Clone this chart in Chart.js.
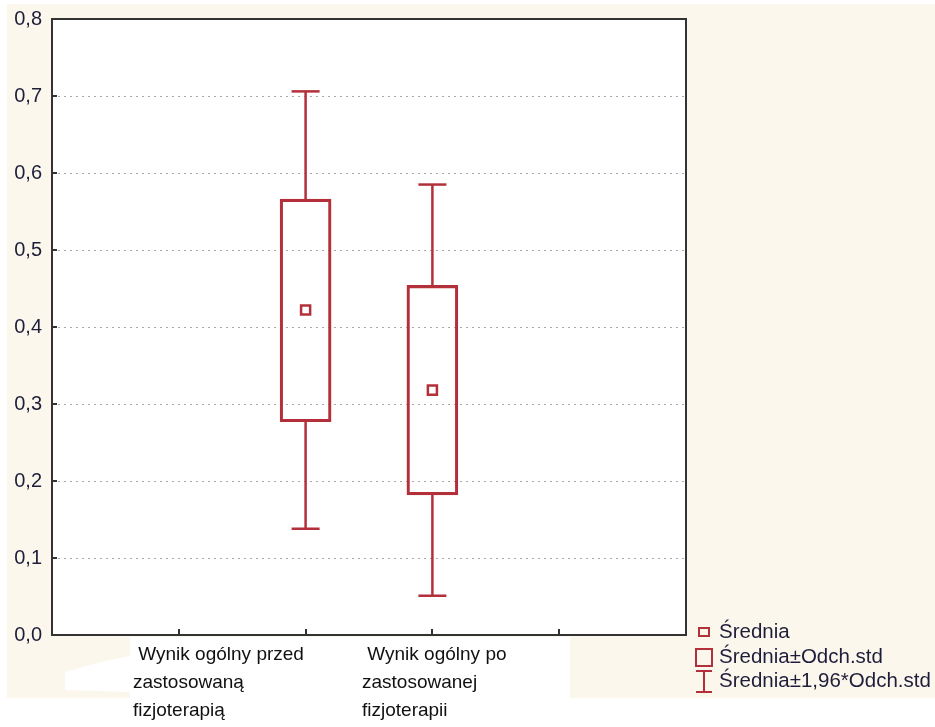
<!DOCTYPE html>
<html>
<head>
<meta charset="utf-8">
<script src="https://cdn.jsdelivr.net/npm/chart.js@4"></script>
<style>
  html, body { margin: 0; padding: 0; background: #fff; }
  #wrap { width: 935px; height: 727px; }
</style>
</head>
<body>
<div id="wrap"><canvas id="wykres" width="935" height="727"></canvas></div>
<script>
// dane
const kategorie = [
    [" Wynik ogólny przed", "zastosowaną", "fizjoterapią"],
    [" Wynik ogólny po", "zastosowanej", "fizjoterapii"]
];
const srednia = [0.422, 0.318];
const odchDol = [0.277, 0.182];
const odchGora = [0.566, 0.454];
const ci196Dol = [0.138, 0.051];
const ci196Gora = [0.706, 0.585];
const yTicks = [0, 0.1, 0.2, 0.3, 0.4, 0.5, 0.6, 0.7, 0.8];
const legenda = ["Średnia", "Średnia±Odch.std", "Średnia±1,96*Odch.std"];

const CZERWONY = "#b3303a";
const TEKST = "#1e1e3a";
const BEZ = "#fcf7ec";
const FONT = "'Liberation Sans', Arial, sans-serif";

// pozycje na osi x: kategorie w slotach 2 i 3 (oś 0..5)
const xKat = kategorie.map((k, i) => i + 2);
const labelLeft = [133, 362];

const wasy = [];
xKat.forEach((x, i) => {
    wasy.push({ x: x, y: ci196Gora[i] }, { x: x, y: odchGora[i] }, { x: x, y: null });
    wasy.push({ x: x, y: odchDol[i] }, { x: x, y: ci196Dol[i] }, { x: x, y: null });
});

const tlo = {
    id: "tlo",
    beforeDraw(chart) {
        const c = chart.ctx;
        const a = chart.chartArea;
        c.save();
        c.fillStyle = "#fff";
        c.fillRect(0, 0, chart.width, chart.height);
        c.fillStyle = BEZ;
        c.fillRect(7, 4, chart.width - 7, 694);
        c.fillStyle = "#fff";
        c.fillRect(130, a.bottom + 2, 440, 698 - a.bottom - 2);
        c.beginPath();
        c.moveTo(65, 672);
        c.lineTo(105, 661);
        c.lineTo(130, 656);
        c.lineTo(130, 692);
        c.lineTo(65, 690);
        c.closePath();
        c.fill();
        c.fillRect(a.left, a.top, a.right - a.left, a.bottom - a.top);
        c.restore();
    },
    afterDraw(chart) {
        const c = chart.ctx;
        const a = chart.chartArea;
        const xs = chart.scales.x;
        const ys = chart.scales.y;
        c.save();
        // ramka
        c.strokeStyle = "#333";
        c.lineWidth = 2;
        c.strokeRect(a.left, a.top, a.right - a.left, a.bottom - a.top);
        // znaczniki do wewnątrz
        c.lineWidth = 2;
        c.beginPath();
        yTicks.forEach(v => {
            const y = Math.round(ys.getPixelForValue(v));
            c.moveTo(a.left, y);
            c.lineTo(a.left + 5, y);
        });
        [1, 2, 3, 4].forEach(v => {
            const x = Math.round(xs.getPixelForValue(v));
            c.moveTo(x, a.bottom);
            c.lineTo(x, a.bottom - 6);
        });
        c.stroke();

        // etykiety kategorii
        c.fillStyle = "#111";
        c.font = "19px " + FONT;
        c.textBaseline = "alphabetic";
        c.textAlign = "left";
        kategorie.forEach((linie, i) => {
            linie.forEach((t, j) => {
                c.fillText(t, labelLeft[i], 660 + j * 28);
            });
        });

        // legenda
        const lx = 704;
        const ly = [632, 657, 681];
        c.strokeStyle = CZERWONY;
        c.lineWidth = 2;
        c.strokeRect(lx - 5, ly[0] - 4, 10, 8);
        c.strokeRect(lx - 8, ly[1] - 8, 16, 17);
        c.beginPath();
        c.moveTo(lx - 8, ly[2] - 10);
        c.lineTo(lx + 8, ly[2] - 10);
        c.moveTo(lx, ly[2] - 10);
        c.lineTo(lx, ly[2] + 11);
        c.moveTo(lx - 8, ly[2] + 11);
        c.lineTo(lx + 8, ly[2] + 11);
        c.stroke();
        c.fillStyle = TEKST;
        c.font = "20.5px " + FONT;
        c.textBaseline = "middle";
        legenda.forEach((t, i) => c.fillText(t, 719, ly[i]));
        c.restore();
    }
};

new Chart(document.getElementById("wykres"), {
    type: "bar",
    data: {
        datasets: [
            {
                type: "bar",
                label: legenda[1],
                data: xKat.map((x, i) => ({ x: x, y: [odchDol[i], odchGora[i]] })),
                backgroundColor: "rgba(255,255,255,0)",
                borderColor: CZERWONY,
                borderWidth: 2.5,
                borderSkipped: false,
                barThickness: 51,
                order: 3
            },
            {
                type: "line",
                label: legenda[2],
                data: wasy,
                borderColor: CZERWONY,
                borderWidth: 2.5,
                pointRadius: 0,
                spanGaps: false,
                fill: false,
                order: 2
            },
            {
                type: "scatter",
                label: "caps",
                data: xKat.flatMap((x, i) => [{ x: x, y: ci196Gora[i] }, { x: x, y: ci196Dol[i] }]),
                pointStyle: "line",
                pointRadius: 14,
                borderColor: CZERWONY,
                borderWidth: 2.5,
                order: 1
            },
            {
                type: "scatter",
                label: legenda[0],
                data: xKat.map((x, i) => ({ x: x, y: srednia[i] })),
                pointStyle: "rect",
                pointRadius: 6.4,
                backgroundColor: "#fff",
                borderColor: CZERWONY,
                borderWidth: 2.5,
                order: 0
            }
        ]
    },
    options: {
        responsive: false,
        animation: false,
        layout: { padding: { left: 0, right: 249, top: 19, bottom: 0 } },
        plugins: {
            legend: { display: false },
            tooltip: { enabled: false }
        },
        scales: {
            x: {
                type: "linear",
                min: 0,
                max: 5,
                offset: false,
                grid: { display: false },
                border: { display: false },
                ticks: { display: false },
                afterFit: s => { s.height = 92; s.paddingLeft = 0; s.paddingRight = 0; }
            },
            y: {
                min: 0,
                max: 0.8,
                afterBuildTicks: s => { s.ticks = yTicks.map(v => ({ value: v })); },
                grid: {
                    drawTicks: false,
                    color: ctx => (ctx.tick && (ctx.tick.value === 0 || ctx.tick.value === 0.8)) ? "rgba(0,0,0,0)" : "#a8a8a8",
                    lineWidth: 1
                },
                border: { display: false, dash: [2, 4] },
                ticks: {
                    padding: 10,
                    color: TEKST,
                    font: { family: FONT, size: 20 },
                    callback: v => v.toFixed(1).replace(".", ",")
                },
                afterFit: s => { s.width = 52; s.paddingTop = 0; s.paddingBottom = 0; }
            }
        }
    },
    plugins: [tlo]
});
</script>
</body>
</html>
